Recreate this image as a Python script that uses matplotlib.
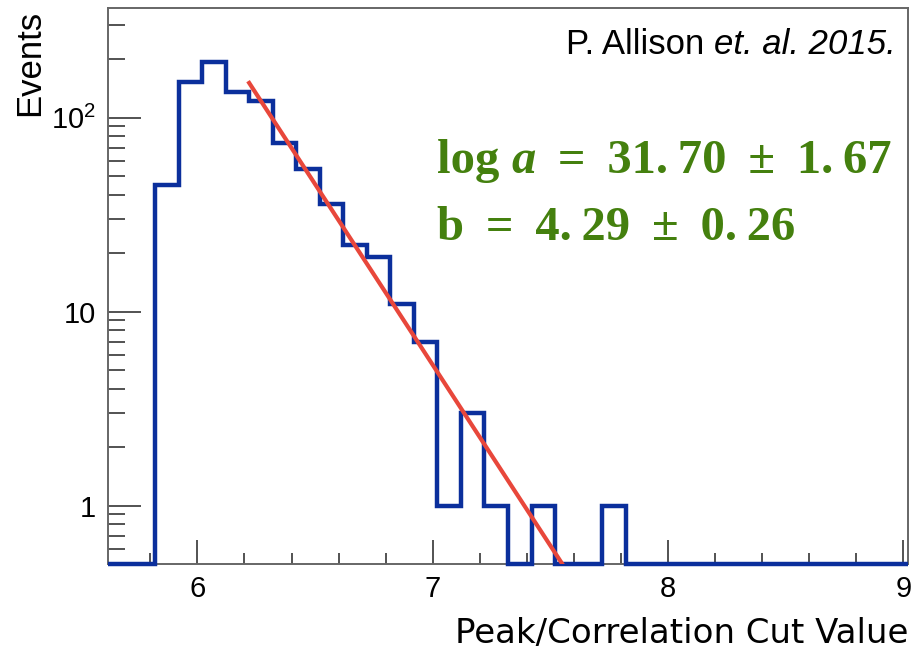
import matplotlib
matplotlib.use("Agg")
import matplotlib.pyplot as plt
import numpy as np
from matplotlib.ticker import FixedLocator, FuncFormatter

plt.rcParams['mathtext.fontset'] = 'custom'
plt.rcParams['mathtext.rm'] = 'Liberation Sans'

# histogram: 0.1 wide bins starting at 5.62
bin_start = 5.62
bin_width = 0.1
counts = [0, 0, 45, 152, 193, 136, 121, 74, 54, 36, 22, 19, 11, 7,
          1, 3, 1, 0, 1, 0, 0, 1,
          0, 0, 0, 0, 0, 0, 0, 0, 0, 0, 0, 0]

# exponential fit  N = exp(log_a - b*x)
log_a = 31.70
log_a_err = 1.67
b_val = 4.29
b_err = 0.26
fit_start = 6.22

ymin, ymax = 0.5, 367
edges = np.round(bin_start + bin_width * np.arange(len(counts) + 1), 2)

fig = plt.figure(figsize=(9.18, 6.54), dpi=100)
ax = fig.add_axes([108/918, 1 - 564/654, 800/918, 556/654])

vals = np.maximum(np.array(counts, dtype=float), ymin)
ax.stairs(vals, edges, color='#0b2f9c', linewidth=3.2, baseline=None,
          clip_on=False, zorder=3)

xf = np.linspace(fit_start, 7.7, 200)
ax.plot(xf, np.exp(log_a - b_val * xf), color='#e8473b', linewidth=3.0, zorder=4)

ax.set_yscale('log')
ax.set_xlim(edges[0], edges[-1])
ax.set_ylim(ymin, ymax)

ax.xaxis.set_major_locator(FixedLocator([6, 7, 8, 9]))
ax.xaxis.set_minor_locator(FixedLocator(np.arange(5.8, 9.01, 0.2)))
ax.yaxis.set_major_locator(FixedLocator([1, 10, 100]))
minor_y = [m * 10.0**e for e in (-1, 0, 1, 2) for m in range(2, 10)]
ax.yaxis.set_minor_locator(FixedLocator([v for v in minor_y if ymin <= v <= ymax]))
ylabels = {1: '1', 10: '10', 100: r'$\mathregular{10^{2}}$'}
ax.yaxis.set_major_formatter(FuncFormatter(lambda v, p: ylabels.get(int(round(v)), '')))
ax.yaxis.set_minor_formatter(FuncFormatter(lambda v, p: ''))

ax.tick_params(which='both', direction='in', top=False, right=False,
               color='#444444', width=1.3, labelsize=21)
ax.tick_params(axis='x', which='major', length=17, pad=8)
ax.tick_params(axis='x', which='minor', length=8)
ax.tick_params(axis='y', which='major', length=24, pad=9)
ax.tick_params(axis='y', which='minor', length=12)
for lab in ax.get_xticklabels() + ax.get_yticklabels():
    lab.set_fontfamily('Liberation Sans')
for s in ax.spines.values():
    s.set_color('#666666')
    s.set_linewidth(1.4)

fig.text(30/918, 1 - 10/654, 'Events', rotation=90, ha='center', va='top',
         fontsize=25, family='Liberation Sans')
fig.text(908/918, 1 - 643/654, 'Peak/Correlation Cut Value', ha='right',
         va='baseline', fontsize=24.5, family='DejaVu Sans')

# reference line: regular name, italic rest
cite = ax.text(0.985, 0.905, 'et. al. 2015.', transform=ax.transAxes,
               ha='right', va='bottom', fontsize=25, family='Liberation Sans',
               style='italic')
ax.annotate('P. Allison ', xy=(0, 0), xycoords=cite, ha='right', va='bottom',
            fontsize=25, family='Liberation Sans')


def num(v):
    return ('%.2f' % v).replace('.', '.\u2009')


# fit result, written piece by piece so "a" can be bold italic
green = '#44800e'
eq = ' \u2009=\u2009 '
pm = ' \u2009\u00b1\u2009 '
gfont = dict(fontsize=35, family='Liberation Serif', weight='bold', color=green)
t1 = ax.text(0.411, 0.703, 'log ', transform=ax.transAxes, ha='left',
             va='baseline', **gfont)
t2 = ax.annotate('a', xy=(1, 0), xycoords=t1, ha='left', va='bottom',
                 style='italic', **gfont)
ax.annotate(eq + num(log_a) + pm + num(log_a_err),
            xy=(1, 0), xycoords=t2, ha='left', va='bottom', **gfont)
ax.text(0.411, 0.583, 'b' + eq + num(b_val) + pm + num(b_err),
        transform=ax.transAxes, ha='left', va='baseline', **gfont)

fig.savefig('out.png', dpi=100)
